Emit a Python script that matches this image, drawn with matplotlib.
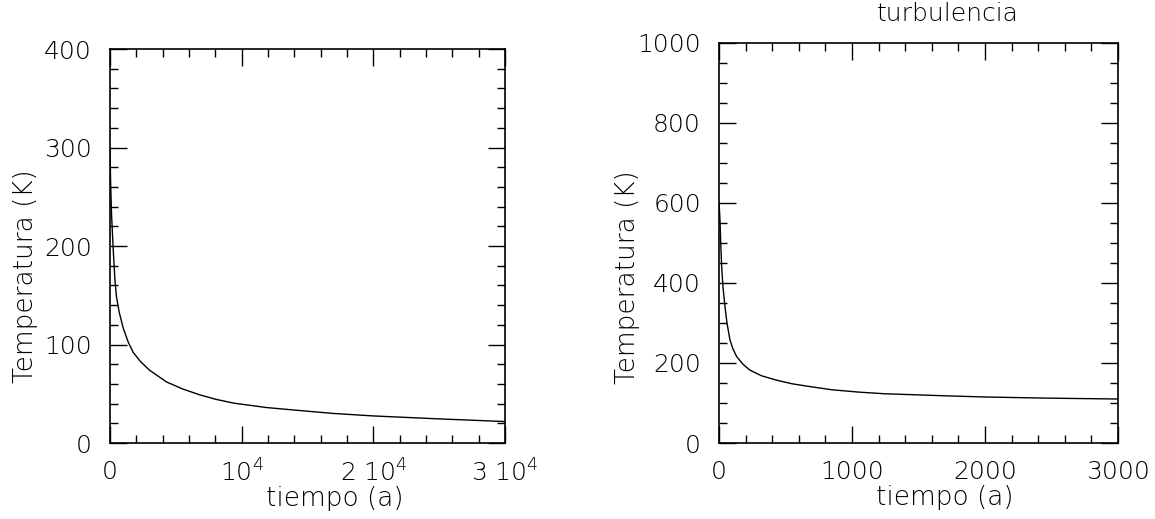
import matplotlib
matplotlib.use('Agg')
import matplotlib.pyplot as plt
from matplotlib.ticker import MultipleLocator, FixedLocator, FixedFormatter

plt.rcParams['font.family'] = ['DejaVu Sans']
plt.rcParams['font.weight'] = 'light'
plt.rcParams['axes.labelweight'] = 'light'

# left panel: temperature vs time (years)
t_left = [0, 50, 120, 250, 380, 500, 700, 1000, 1400, 1770, 2300, 3000, 4300,
          5500, 6800, 8000, 9400, 11900, 14400, 17000, 20000, 25000, 30000]
T_left = [300, 265, 232, 196, 165, 148, 133, 117, 102, 92, 83, 74, 62,
          55, 49, 44.5, 40.5, 36, 33, 30, 27.5, 24.5, 21.8]

# right panel: with turbulence
t_right = [0, 4, 7.5, 13, 20, 30, 45, 60, 83, 105, 133, 180, 233, 320, 434,
           550, 684, 850, 1060, 1250, 1436, 1700, 2000, 2500, 3000]
T_right = [600, 580, 557, 500, 441, 390, 341, 300, 257, 235, 216, 197, 182, 168, 157,
           148, 141, 133, 127, 123, 121, 118, 115, 112, 110]

left_xticks = [0, 10000, 20000, 30000]
left_xlabels = ['0', r'$\mathregular{10^{4}}$', r'2 $\mathregular{10^{4}}$',
                r'3 $\mathregular{10^{4}}$']

fs = 18
lfs = 19

fig = plt.figure(figsize=(11.55, 5.19), dpi=100)
ax1 = fig.add_axes([0.0952, 0.1464, 0.342, 0.759])
ax2 = fig.add_axes([0.6225, 0.1464, 0.3455, 0.771])

for ax in (ax1, ax2):
    for s in ax.spines.values():
        s.set_linewidth(1.2)
    ax.tick_params(which='both', direction='in', top=True, right=True,
                   width=1.0, labelsize=fs)
    ax.tick_params(which='major', length=12, pad=12)
    ax.tick_params(which='minor', length=6)
    ax.tick_params(axis='y', which='major', pad=13)

ax1.plot(t_left, T_left, color='black', lw=1.0)
ax1.set_xlim(0, 30000)
ax1.set_ylim(0, 400)
ax1.xaxis.set_major_locator(FixedLocator(left_xticks))
ax1.xaxis.set_major_formatter(FixedFormatter(left_xlabels))
ax1.xaxis.set_minor_locator(MultipleLocator(2000))
ax1.yaxis.set_major_locator(MultipleLocator(100))
ax1.yaxis.set_minor_locator(MultipleLocator(20))
ax1.set_xlabel('tiempo (a)', fontsize=lfs)
ax1.set_ylabel('Temperatura (K)', fontsize=lfs)
ax1.xaxis.set_label_coords(0.57, -0.108)
ax1.yaxis.set_label_coords(-0.182, 0.424)

ax2.plot(t_right, T_right, color='black', lw=1.0)
ax2.set_xlim(0, 3000)
ax2.set_ylim(0, 1000)
ax2.xaxis.set_major_locator(MultipleLocator(1000))
ax2.xaxis.set_minor_locator(MultipleLocator(200))
ax2.yaxis.set_major_locator(MultipleLocator(200))
ax2.yaxis.set_minor_locator(MultipleLocator(50))
ax2.set_xlabel('tiempo (a)', fontsize=lfs)
ax2.set_ylabel('Temperatura (K)', fontsize=lfs)
ax2.xaxis.set_label_coords(0.566, -0.106)
ax2.yaxis.set_label_coords(-0.198, 0.415)
ax2.text(0.572, 1.072, 'turbulencia', transform=ax2.transAxes,
         ha='center', va='center', fontsize=fs)

fig.savefig('out.png', dpi=100)
